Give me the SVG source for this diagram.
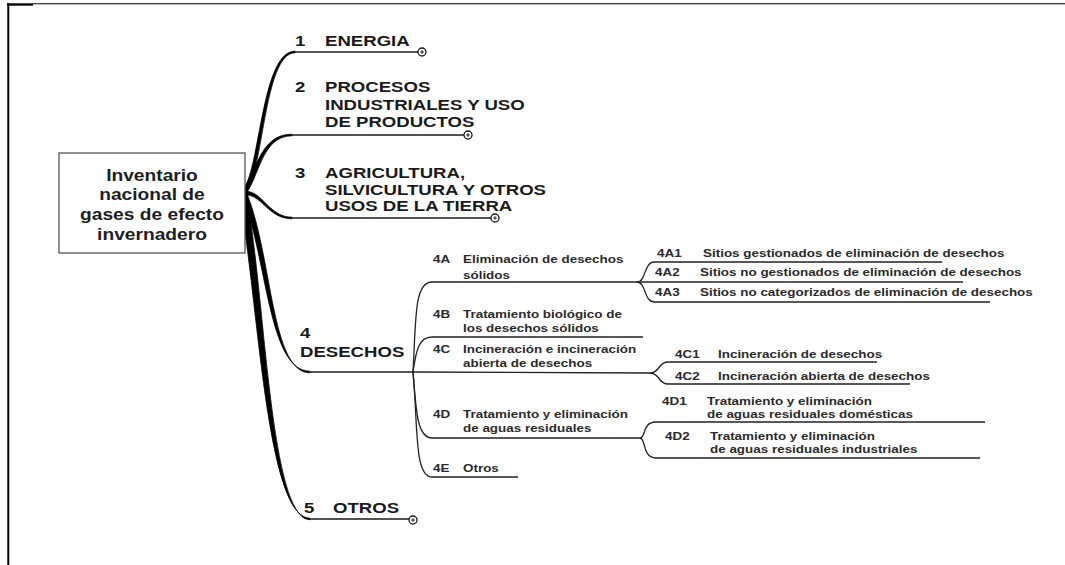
<svg xmlns="http://www.w3.org/2000/svg" width="1065" height="565" viewBox="0 0 1065 565">
<style>
text{font-family:"Liberation Sans",Arial,sans-serif;font-weight:bold}
.r{font-size:16px;fill:#1e1e1e;text-anchor:middle}
.b{font-size:15.5px;fill:#1a1a1a}
.s{font-size:11.2px;fill:#2a2a2a}
.stem{fill:#000;stroke:#000;stroke-width:0.8;stroke-linejoin:round}
.ln{fill:none;stroke:#1a1a1a;stroke-width:1.6}
.sl{fill:none;stroke:#222;stroke-width:1.3}
.end{fill:#fff;stroke:#1a1a1a;stroke-width:1.3}
.pl{stroke:#1a1a1a;stroke-width:1}
</style>
<defs>
<g id="plus"><circle class="end" cx="0" cy="0" r="4"/><path class="pl" d="M-1.8,0H1.8M0,-1.8V1.8"/></g>
</defs>
<rect width="1065" height="565" fill="#fff"/>
<g id="frame">
<path d="M7,4.5H33" stroke="#000" stroke-width="2.4"/>
<path d="M33,3.8H1065" stroke="#000" stroke-width="1.1"/>
<path d="M8.3,3.3V565" stroke="#000" stroke-width="2"/>
</g>
<g id="connectors">
<path class="stem" d="M241.5,191 C260.5,175 260.5,51.2 295,51.2 L295,52.8 C263.5,52.8 263.5,176 245,193 Z"/>
<path class="stem" d="M241.5,192 C256.5,175 258.5,134.2 292,134.2 L292,135.8 C261.5,135.8 259.5,177 245,195 Z"/>
<path class="stem" d="M243,191.5 C262,188.5 268,217.2 292,217.2 L292,218.8 C267,218.8 261,191.5 243,195.5 Z"/>
<path class="stem" d="M242.5,196 C267.5,260 268.5,371.2 310,371.2 L310,372.8 C271.5,372.8 272.5,260 247.8,196 Z"/>
<path class="stem" d="M239.5,197 C258.5,300 266,518.2 310,518.2 L310,519.8 C270,519.8 265.5,300 246.8,197 Z"/>
<ellipse cx="244" cy="194" rx="4" ry="5" fill="#000"/>
<path class="ln" d="M295,52H418"/>
<path class="ln" d="M292,135H464"/>
<path class="ln" d="M292,218H491"/>
<path class="ln" d="M309,372H413"/>
<path class="ln" d="M309,519H409"/>
<use href="#plus" x="422" y="52"/>
<use href="#plus" x="468" y="135"/>
<use href="#plus" x="495" y="218"/>
<use href="#plus" x="413" y="520"/>
<path class="sl" d="M413,372 C416,320 414,282 432,282 H637"/>
<path class="sl" d="M413,372 C416,352 418,337 432,337 H643"/>
<path class="sl" d="M413,372 L650,373"/>
<path class="sl" d="M413,372 C416,405 416,438 432,438 H640"/>
<path class="sl" d="M413,372 C418,425 414,477 432,477 H518"/>
<path class="sl" d="M637,282 C646,282 644,262 654,262 H942"/>
<path class="sl" d="M637,282 H963"/>
<path class="sl" d="M637,282 C646,282 644,302 654,302 H990"/>
<path class="sl" d="M650,373 C660,373 658,362 668,362 H877"/>
<path class="sl" d="M650,373 C660,373 658,384 668,384 H910"/>
<path class="sl" d="M640,438 C646,438 642,422 656,422 H985"/>
<path class="sl" d="M640,438 C646,438 642,458 656,458 H980"/>
</g>
<g id="root">
<rect x="59" y="153" width="186" height="100" fill="#fff" stroke="#555" stroke-width="1.3"/>
<g transform="scale(1.2,1)">
<text class="r" x="126.67" y="181">Inventario</text>
<text class="r" x="126.67" y="200">nacional de</text>
<text class="r" x="126.67" y="220">gases de efecto</text>
<text class="r" x="126.67" y="240">invernadero</text>
</g>
</g>
<g transform="scale(1.2,1)">
<g id="n1"><text class="b" x="245.83" y="46">1</text><text class="b" x="270.83" y="46">ENERGIA</text></g>
<g id="n2"><text class="b" x="245.83" y="92">2</text><text class="b" x="270.83" y="92">PROCESOS</text><text class="b" x="270.83" y="110">INDUSTRIALES Y USO</text><text class="b" x="270.83" y="127">DE PRODUCTOS</text></g>
<g id="n3"><text class="b" x="245.83" y="178">3</text><text class="b" x="270.83" y="178">AGRICULTURA,</text><text class="b" x="270.83" y="195">SILVICULTURA Y OTROS</text><text class="b" x="270.83" y="211.5">USOS DE LA TIERRA</text></g>
<g id="n4"><text class="b" x="250" y="338">4</text><text class="b" x="250" y="357">DESECHOS</text></g>
<g id="n5"><text class="b" x="253.33" y="513">5</text><text class="b" x="277.5" y="513">OTROS</text></g>
<g id="n4A"><text class="s" x="360.83" y="263">4A</text><text class="s" x="385.83" y="263">Eliminación de desechos</text><text class="s" x="385.83" y="279">sólidos</text></g>
<g id="n4B"><text class="s" x="360.83" y="318">4B</text><text class="s" x="385.83" y="318">Tratamiento biológico de</text><text class="s" x="385.83" y="332">los desechos sólidos</text></g>
<g id="n4C"><text class="s" x="360.83" y="353">4C</text><text class="s" x="385.83" y="353">Incineración e incineración</text><text class="s" x="385.83" y="367">abierta de desechos</text></g>
<g id="n4D"><text class="s" x="360.83" y="418">4D</text><text class="s" x="385.83" y="418">Tratamiento y eliminación</text><text class="s" x="385.83" y="432">de aguas residuales</text></g>
<g id="n4E"><text class="s" x="360.83" y="472">4E</text><text class="s" x="385.83" y="472">Otros</text></g>
<g id="n4A1"><text class="s" x="547.5" y="257">4A1</text><text class="s" x="585.83" y="257">Sitios gestionados de eliminación de desechos</text></g>
<g id="n4A2"><text class="s" x="545.83" y="276">4A2</text><text class="s" x="583.33" y="276">Sitios no gestionados de eliminación de desechos</text></g>
<g id="n4A3"><text class="s" x="545.83" y="296">4A3</text><text class="s" x="583.33" y="296">Sitios no categorizados de eliminación de desechos</text></g>
<g id="n4C1"><text class="s" x="562.5" y="358">4C1</text><text class="s" x="598.33" y="358">Incineración de desechos</text></g>
<g id="n4C2"><text class="s" x="562.5" y="380">4C2</text><text class="s" x="598.33" y="380">Incineración abierta de desechos</text></g>
<g id="n4D1"><text class="s" x="551.67" y="405">4D1</text><text class="s" x="589.17" y="405">Tratamiento y eliminación</text><text class="s" x="589.17" y="418">de aguas residuales domésticas</text></g>
<g id="n4D2"><text class="s" x="554.17" y="440">4D2</text><text class="s" x="591.67" y="440">Tratamiento y eliminación</text><text class="s" x="591.67" y="453">de aguas residuales industriales</text></g>
</g>
</svg>
